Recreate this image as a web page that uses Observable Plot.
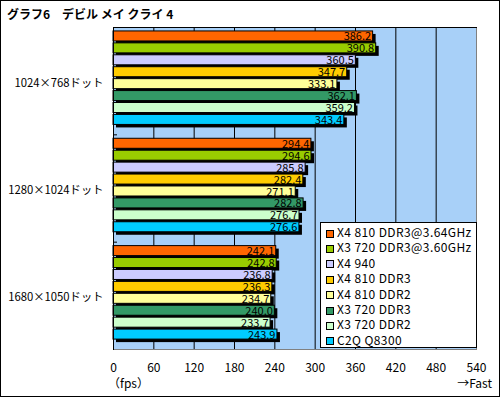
<!DOCTYPE html>
<html>
<head>
<meta charset="utf-8">
<script src="https://cdn.jsdelivr.net/npm/d3@7"></script>
<script src="https://cdn.jsdelivr.net/npm/@observablehq/plot@0.6"></script>
<style>
  html, body { margin: 0; padding: 0; background: #fff; }
  #wrap { position: relative; width: 500px; height: 397px; overflow: hidden; font-family: "Noto Sans CJK JP", sans-serif; }
  #border { position: absolute; left: 0; top: 0; width: 500px; height: 397px; border: 1px solid #000; box-sizing: border-box; pointer-events: none; }
  #title { position: absolute; left: 7px; top: 6px; font-size: 12px; font-weight: bold; color: #000; white-space: pre; line-height: 16px; }
  #legend { position: absolute; left: 320px; top: 222px; width: 157px; height: 126px; background: #fff; border: 1px solid #000; box-sizing: border-box; }
  .lg { position: absolute; left: 5px; height: 15px; line-height: 15px; font-size: 12px; letter-spacing: 0.4px; white-space: nowrap; color: #000; }
  .sw { display: inline-block; width: 8px; height: 8px; border: 1px solid #000; box-sizing: border-box; margin-right: 3px; vertical-align: -0.5px; }
  .note { position: absolute; font-size: 12px; line-height: 14px; color: #000; white-space: nowrap; }
</style>
</head>
<body>
<div id="wrap">
  <div id="chart"></div>
  <div id="title"></div>
  <div id="legend"></div>
  <div class="note" id="unit" style="left:108px; top:376px;"></div>
  <div class="note" id="fast" style="right:8px; top:376px;"></div>
  <div id="border"></div>
</div>
<script>
const titleText = "グラフ6\u3000デビル メイ クライ 4";
const groups = ["1024×768ドット", "1280×1024ドット", "1680×1050ドット"];
const series = ["X4 810 DDR3@3.64GHz", "X3 720 DDR3@3.60GHz", "X4 940", "X4 810 DDR3", "X4 810 DDR2", "X3 720 DDR3", "X3 720 DDR2", "C2Q Q8300"];
const colors = ["#ff6600", "#99cc00", "#ccccff", "#ffcc00", "#ffff99", "#339966", "#ccffcc", "#00ccff"];
const values1024 = [386.2, 390.8, 360.5, 347.7, 333.1, 362.1, 359.2, 343.4];
const values1280 = [294.4, 294.6, 285.8, 282.4, 271.1, 282.8, 276.7, 276.6];
const values1680 = [242.1, 242.8, 236.8, 236.3, 234.7, 240.0, 233.7, 243.9];
const xTicks = [0, 60, 120, 180, 240, 300, 360, 420, 480, 540];
const unitLabel = "（fps）";
const fastLabel = "→Fast";

const allValues = [values1024, values1280, values1680];
const slotsPerGroup = series.length + 1;
const data = groups.flatMap((g, gi) => series.map((s, si) => ({
  group: g, series: s, value: allValues[gi][si], slot: gi * slotsPerGroup + si
})));

const barTop = 0.33, barH = 0.84;

const chart = Plot.plot({
  width: 500,
  height: 397,
  marginLeft: 113,
  marginRight: 24,
  marginTop: 27,
  marginBottom: 48,
  style: { fontFamily: "'Noto Sans CJK JP', sans-serif", fontSize: "12px", color: "#000", background: "transparent" },
  x: { domain: [0, 540], axis: null, label: null },
  y: { domain: [0, groups.length * slotsPerGroup], reverse: true, axis: null, label: null },
  color: { domain: series, range: colors },
  marks: [
    Plot.frame({ fill: "#a8d0f8", stroke: null }),
    Plot.ruleX(xTicks.slice(1, -1), { stroke: "#000", strokeWidth: 1 }),
    Plot.rectX(data, { x1: 0, x2: "value", y1: d => d.slot + barTop, y2: d => d.slot + barTop + barH, fill: "#000", dx: 3, dy: 3 }),
    Plot.rectX(data, { x1: 0, x2: "value", y1: d => d.slot + barTop, y2: d => d.slot + barTop + barH, fill: "series", stroke: "#000", strokeWidth: 1 }),
    Plot.text(data, { x: "value", y: d => d.slot + barTop + barH / 2, text: d => d.value.toFixed(1), textAnchor: "end", dx: -2, dy: 0.5, fill: "#000", fontSize: 11 }),
    Plot.text(groups, { y: (d, i) => i * slotsPerGroup + 4.65, text: d => d, frameAnchor: "left", textAnchor: "end", dx: -10, fill: "#000", fontSize: 11.3 }),
    Plot.axisY(d3.range(1, groups.length).map(i => i * slotsPerGroup), { anchor: "left", tickSize: -4, tickFormat: () => "", label: null, stroke: "#000" }),
    Plot.axisX(xTicks, { anchor: "bottom", tickSize: 0, tickPadding: 14, fontSize: 12, fill: "#000", label: null }),
    Plot.frame({ anchor: "right", stroke: "#808080" }),
    Plot.frame({ anchor: "bottom", stroke: "#808080" }),
    Plot.frame({ anchor: "left", stroke: "#000" }),
    Plot.frame({ anchor: "top", stroke: "#000" })
  ]
});
document.getElementById("chart").appendChild(chart);

document.getElementById("title").textContent = titleText;
document.getElementById("unit").textContent = unitLabel;
document.getElementById("fast").textContent = fastLabel;

const legend = document.getElementById("legend");
series.forEach((s, i) => {
  const row = document.createElement("div");
  row.className = "lg";
  row.style.top = (1 + i * 15.4) + "px";
  const sw = document.createElement("span");
  sw.className = "sw";
  sw.style.background = colors[i];
  row.appendChild(sw);
  row.appendChild(document.createTextNode(s));
  legend.appendChild(row);
});
</script>
</body>
</html>
